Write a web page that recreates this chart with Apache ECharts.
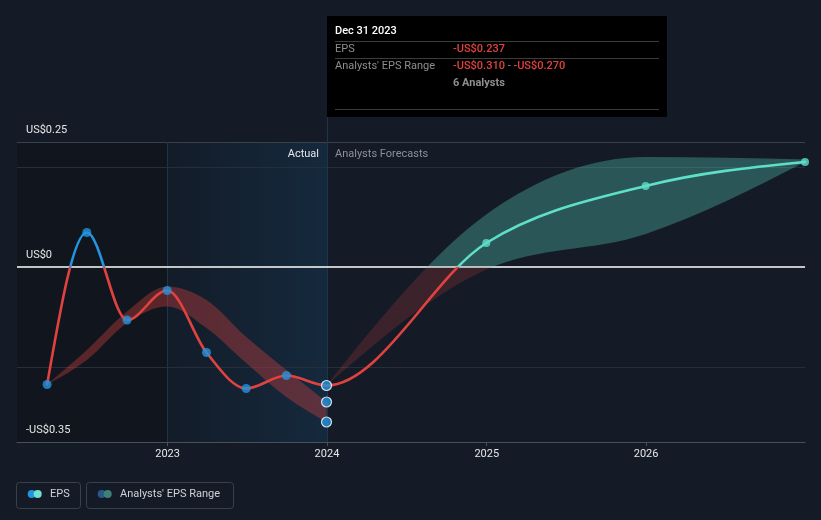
<!DOCTYPE html>
<html><head><meta charset="utf-8">
<script src="https://cdn.jsdelivr.net/npm/echarts@6/dist/echarts.min.js"></script>
<style>html,body{margin:0;padding:0;background:#151b26;}#c{width:821px;height:520px;}</style>
</head><body><div id="c"></div>
<script>
// ---- data ----
const epsDates = ['2022-03-31','2022-06-30','2022-09-30','2022-12-31','2023-03-31','2023-06-30','2023-09-30','2023-12-31'];
const epsValues = [-0.235, 0.069, -0.106, -0.047, -0.171, -0.243, -0.217, -0.237];
const pastRangeLow  = [-0.235, -0.186, -0.112, -0.079, -0.122, -0.192, -0.260, -0.310];
const pastRangeHigh = [-0.235, -0.166, -0.089, -0.039, -0.066, -0.140, -0.206, -0.270];
const forecastDates = ['2023-12-31','2024-12-31','2025-12-31','2026-12-31'];
const forecastValues = [-0.237, 0.048, 0.162, 0.210];
const forecastLow  = [-0.237, -0.005, 0.066, 0.210];
const forecastHigh = [-0.237, 0.105, 0.220, 0.215];
const rangeDate = '2023-12-31';
const rangeValues = [-0.270, -0.310];
const yTickValues = [0.25, 0, -0.35];
const yTickLabels = ['US$0.25', 'US$0', '-US$0.35'];
const xMin = '2022-01-21', xMax = '2026-12-31';
const actualStart = '2023-01-01', actualEnd = '2024-01-01';

const RED = '#e2423f', BLUE = '#2394df', TEAL = '#5ddfc8';
const FONT = 'Roboto, "Noto Sans", sans-serif';

const pair = (dates, vals) => dates.map((d, i) => [d, vals[i]]);
const triple = (dates, a, b) => dates.map((d, i) => [d, a[i], b[i]]);

// monotone-x cubic tangents (pixel space)
function tangents(px, py) {
  const n = px.length, m = new Array(n).fill(0);
  if (n < 2) return m;
  if (n === 2) { const s = (py[1] - py[0]) / (px[1] - px[0]); m[0] = m[1] = s; return m; }
  const sgn = x => (x < 0 ? -1 : 1);
  for (let i = 1; i < n - 1; i++) {
    const h0 = px[i] - px[i - 1], h1 = px[i + 1] - px[i];
    const s0 = (py[i] - py[i - 1]) / h0, s1 = (py[i + 1] - py[i]) / h1;
    const p = (s0 * h1 + s1 * h0) / (h0 + h1);
    m[i] = (sgn(s0) + sgn(s1)) * Math.min(Math.abs(s0), Math.abs(s1), 0.5 * Math.abs(p)) || 0;
  }
  m[0] = (3 * (py[1] - py[0]) / (px[1] - px[0]) - m[1]) / 2;
  m[n - 1] = (3 * (py[n - 1] - py[n - 2]) / (px[n - 1] - px[n - 2]) - m[n - 2]) / 2;
  return m;
}
function curve(px, py, m, from, to, withMove) {
  let d = withMove ? 'M' + px[from] + ' ' + py[from] : '';
  for (let i = from; i < to; i++) {
    const dx = (px[i + 1] - px[i]) / 3;
    d += ' C' + (px[i] + dx) + ' ' + (py[i] + dx * m[i]) + ' ' + (px[i + 1] - dx) + ' ' + (py[i + 1] - dx * m[i + 1]) + ' ' + px[i + 1] + ' ' + py[i + 1];
  }
  return d;
}
function curveBack(px, py, m, from, to) {
  let d = ' L' + px[from] + ' ' + py[from];
  for (let i = from; i > to; i--) {
    const dx = (px[i] - px[i - 1]) / 3;
    d += ' C' + (px[i] - dx) + ' ' + (py[i] - dx * m[i]) + ' ' + (px[i - 1] + dx) + ' ' + (py[i - 1] + dx * m[i - 1]) + ' ' + px[i - 1] + ' ' + py[i - 1];
  }
  return d + ' Z';
}
function signGradient(y0, pos, neg) {
  return {type: 'linear', x: 0, y: y0 - 1, x2: 0, y2: y0 + 1, global: true,
    colorStops: [{offset: 0, color: pos}, {offset: 0.5, color: pos}, {offset: 0.5, color: neg}, {offset: 1, color: neg}]};
}
function zeroPixel(api) { return api.coord([api.value(0, 0), 0])[1]; }

function bandRenderer(posColor, negColor) {
  return function (params, api) {
    if (params.dataIndexInside !== 0) return;
    const n = params.dataInsideLength, px = [], pl = [], ph = [];
    for (let i = 0; i < n; i++) {
      const t = api.value(0, i);
      const lo = api.coord([t, api.value(1, i)]), hi = api.coord([t, api.value(2, i)]);
      px.push(lo[0]); pl.push(lo[1]); ph.push(hi[1]);
    }
    const mh = tangents(px, ph), ml = tangents(px, pl);
    const d = curve(px, ph, mh, 0, n - 1, true) + curveBack(px, pl, ml, n - 1, 0);
    return {type: 'path', silent: true, shape: {pathData: d},
      style: {fill: signGradient(zeroPixel(api), posColor, negColor), stroke: null}};
  };
}
const splitAt = epsDates.length - 1;
function lineRenderer(params, api) {
  if (params.dataIndexInside !== 0) return;
  const n = params.dataInsideLength, px = [], py = [];
  for (let i = 0; i < n; i++) {
    const c = api.coord([api.value(0, i), api.value(1, i)]);
    px.push(c[0]); py.push(c[1]);
  }
  const m = tangents(px, py), y0 = zeroPixel(api);
  return {type: 'group', children: [
    {type: 'path', silent: true, shape: {pathData: curve(px, py, m, 0, splitAt, true)},
      style: {fill: null, stroke: signGradient(y0, BLUE, RED), lineWidth: 2.6, lineJoin: 'round', lineCap: 'round'}},
    {type: 'path', silent: true, shape: {pathData: curve(px, py, m, splitAt, n - 1, true)},
      style: {fill: null, stroke: signGradient(y0, TEAL, RED), lineWidth: 2.6, lineJoin: 'round', lineCap: 'round'}}
  ]};
}

const chart = echarts.init(document.getElementById('c'), null, {renderer: 'canvas'});

const splitColors = [];
for (let i = 0; i <= 12; i++) splitColors.push('rgba(0,0,0,0)');
splitColors[3] = '#272e39';
splitColors[11] = '#272e39';
splitColors[12] = '#39414c';

const option = {
  backgroundColor: '#151b26',
  animation: false,
  grid: {left: 17, right: 16, top: 142, bottom: 78, containLabel: false},
  xAxis: {
    type: 'time', min: xMin, max: xMax,
    minInterval: 365 * 86400000,
    splitNumber: 5,
    axisLine: {show: true, onZero: false, lineStyle: {color: '#4a5059', width: 1}},
    axisTick: {show: true, length: 4, lineStyle: {color: '#4a5059'}},
    axisLabel: {color: '#e6e6e6', fontSize: 11, fontFamily: FONT, margin: 7, formatter: '{yyyy}', hideOverlap: false},
    splitLine: {show: false}
  },
  yAxis: {
    type: 'value', min: -0.35, max: 0.25, interval: 0.05,
    axisLine: {show: false}, axisTick: {show: false},
    splitLine: {show: true, lineStyle: {color: splitColors, width: 1}},
    axisLabel: {
      inside: true, margin: 9, color: '#e6e6e6', fontSize: 11, fontFamily: FONT,
      verticalAlign: 'bottom', lineHeight: 24, showMinLabel: true, showMaxLabel: true,
      formatter: function (v) {
        for (let i = 0; i < yTickValues.length; i++) if (Math.abs(v - yTickValues[i]) < 1e-6) return yTickLabels[i];
        return '';
      }
    }
  },
  series: [
    { // past analysts' range band
      type: 'custom', z: 2, silent: true, clip: false,
      encode: {x: 0, y: [1, 2]},
      data: triple(epsDates, pastRangeLow, pastRangeHigh),
      renderItem: bandRenderer('rgba(226,66,63,0.35)', 'rgba(226,66,63,0.35)')
    },
    { // forecast range band
      type: 'custom', z: 2, silent: true, clip: false,
      encode: {x: 0, y: [1, 2]},
      data: triple(forecastDates, forecastLow, forecastHigh),
      renderItem: bandRenderer('rgba(93,223,200,0.30)', 'rgba(226,66,63,0.19)')
    },
    { // EPS line: actual then forecast
      name: 'EPS', type: 'custom', z: 3, silent: true, clip: false,
      encode: {x: 0, y: 1},
      data: pair(epsDates, epsValues).concat(pair(forecastDates.slice(1), forecastValues.slice(1))),
      renderItem: lineRenderer
    },
    { // EPS points + background regions and reference lines
      type: 'scatter', symbolSize: 9, silent: true, z: 5,
      data: pair(epsDates.slice(0, -1), epsValues.slice(0, -1)),
      itemStyle: {color: BLUE},
      markArea: {
        silent: true, z: -1,
        data: [
          [{xAxis: xMin, itemStyle: {color: '#11161e'}}, {xAxis: actualStart}],
          [{xAxis: actualStart, itemStyle: {color: {type: 'linear', x: 0, y: 0, x2: 1, y2: 0,
            colorStops: [{offset: 0, color: '#131c29'}, {offset: 1, color: '#15293d'}]}}}, {xAxis: actualEnd}]
        ]
      },
      markLine: {
        silent: true, symbol: 'none', label: {show: false}, z: 1,
        data: [
          {xAxis: actualStart, lineStyle: {color: '#1e3449', width: 1, type: 'solid'}},
          {xAxis: actualEnd, lineStyle: {color: '#1e3449', width: 1, type: 'solid'}},
          {yAxis: 0, lineStyle: {color: '#ffffff', width: 1.5, type: 'solid'}}
        ]
      }
    },
    { // latest point + range points
      type: 'scatter', symbolSize: 10, silent: true, z: 6,
      data: [[epsDates[epsDates.length - 1], epsValues[epsValues.length - 1]]].concat(rangeValues.map(v => [rangeDate, v])),
      itemStyle: {color: BLUE, borderColor: '#ffffff', borderWidth: 1.2}
    },
    { // forecast points
      type: 'scatter', symbolSize: 8, silent: true, z: 5,
      data: pair(forecastDates.slice(1), forecastValues.slice(1)),
      itemStyle: {color: TEAL}
    }
  ],
  graphic: {elements: [
    {type: 'line', z: 100, silent: true, shape: {x1: 327.5, y1: 117, x2: 327.5, y2: 142}, style: {stroke: '#1e3449', lineWidth: 1}},
    {type: 'text', z: 100, silent: true, x: 319, y: 154, style: {text: 'Actual', fill: '#e6e6e6', font: '11px ' + FONT, align: 'right', verticalAlign: 'middle'}},
    {type: 'text', z: 100, silent: true, x: 335, y: 154, style: {text: 'Analysts Forecasts', fill: '#8b9099', font: '11px ' + FONT, align: 'left', verticalAlign: 'middle'}},
    // tooltip box
    {type: 'rect', z: 100, silent: true, shape: {x: 327, y: 16, width: 340, height: 101}, style: {fill: '#000000'}},
    {type: 'text', z: 101, silent: true, x: 335, y: 31.5, style: {text: 'Dec 31 2023', fill: '#ffffff', font: '500 11px ' + FONT, verticalAlign: 'middle'}},
    {type: 'line', z: 101, silent: true, shape: {x1: 335, y1: 41.5, x2: 659, y2: 41.5}, style: {stroke: '#3c3c3c', lineWidth: 1}},
    {type: 'text', z: 101, silent: true, x: 335, y: 49, style: {text: 'EPS', fill: '#8e8e8e', font: '11px ' + FONT, verticalAlign: 'middle'}},
    {type: 'text', z: 101, silent: true, x: 453, y: 49, style: {text: '-US$0.237', fill: RED, font: '500 11px ' + FONT, verticalAlign: 'middle'}},
    {type: 'line', z: 101, silent: true, shape: {x1: 335, y1: 58.5, x2: 659, y2: 58.5}, style: {stroke: '#3c3c3c', lineWidth: 1}},
    {type: 'text', z: 101, silent: true, x: 335, y: 66, style: {text: "Analysts' EPS Range", fill: '#8e8e8e', font: '11px ' + FONT, verticalAlign: 'middle'}},
    {type: 'text', z: 101, silent: true, x: 453, y: 66, style: {
      text: '{r|-US$0.310}{g| - }{r|-US$0.270}', verticalAlign: 'middle', font: '500 11px ' + FONT,
      rich: {r: {fill: RED, font: '500 11px ' + FONT}, g: {fill: '#8e8e8e', font: '11px ' + FONT}}}},
    {type: 'text', z: 101, silent: true, x: 453, y: 83, style: {text: '6 Analysts', fill: '#8e8e8e', font: 'bold 11px ' + FONT, verticalAlign: 'middle'}},
    {type: 'line', z: 101, silent: true, shape: {x1: 335, y1: 109.5, x2: 659, y2: 109.5}, style: {stroke: '#3c3c3c', lineWidth: 1}},
    // legend
    {type: 'rect', z: 100, silent: true, shape: {x: 16.5, y: 482.5, width: 64, height: 26, r: 3}, style: {fill: 'none', stroke: '#3b414a', lineWidth: 1}},
    {type: 'circle', z: 100, silent: true, shape: {cx: 31.7, cy: 494, r: 4}, style: {fill: BLUE}},
    {type: 'circle', z: 101, silent: true, shape: {cx: 37.7, cy: 494, r: 4}, style: {fill: '#6fe2d0'}},
    {type: 'text', z: 100, silent: true, x: 50, y: 494.5, style: {text: 'EPS', fill: '#cfd2d6', font: '11px ' + FONT, verticalAlign: 'middle'}},
    {type: 'rect', z: 100, silent: true, shape: {x: 86.5, y: 482.5, width: 147, height: 26, r: 3}, style: {fill: 'none', stroke: '#3b414a', lineWidth: 1}},
    {type: 'circle', z: 100, silent: true, shape: {cx: 101.7, cy: 494, r: 4}, style: {fill: '#245a85'}},
    {type: 'circle', z: 101, silent: true, shape: {cx: 107.7, cy: 494, r: 4}, style: {fill: '#3e7f79'}},
    {type: 'text', z: 100, silent: true, x: 120, y: 494.5, style: {text: "Analysts' EPS Range", fill: '#cfd2d6', font: '11px ' + FONT, verticalAlign: 'middle'}}
  ]}
};
chart.setOption(option);
</script>
</body></html>
